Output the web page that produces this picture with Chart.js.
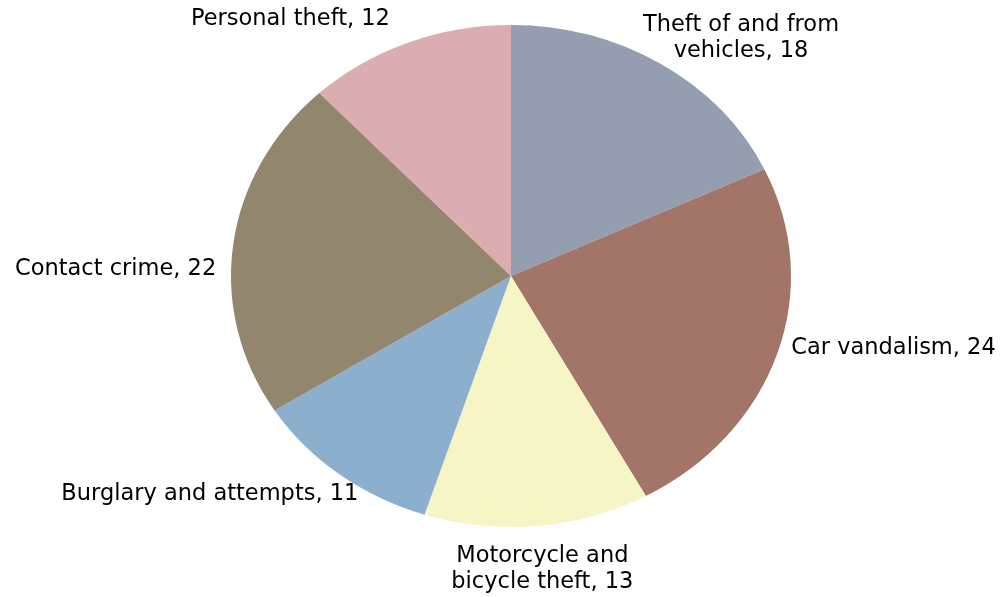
<!DOCTYPE html>
<html>
<head>
<meta charset="utf-8">
<script src="https://cdn.jsdelivr.net/npm/chart.js@4/dist/chart.umd.min.js"></script>
<style>
  html, body { margin: 0; padding: 0; background: #ffffff; }
  #wrap { width: 1005px; height: 597px; position: relative; }
</style>
</head>
<body>
<div id="wrap"><canvas id="c" width="1005" height="597"></canvas></div>
<script>
// ---- data ----
const categories = [
  ["Theft of and from", "vehicles, 18"],
  ["Car vandalism, 24"],
  ["Motorcycle and", "bicycle theft, 13"],
  ["Burglary and attempts, 11"],
  ["Contact crime, 22"],
  ["Personal theft, 12"]
];
const values = [18, 24, 13, 11, 22, 12];

// ---- styles / layout ----
const colors = ["#959EB0", "#A37468", "#F6F5C5", "#8CAFCE", "#92866E", "#DBADB0"];
const stretchX = 280 / 251;  // pie is an ellipse in the reference
const labelLayout = [
  { align: "center", dx: 80,  dy: -25.5 },
  { align: "left",   dx: 14,  dy: -5 },
  { align: "center", dx: 5,   dy: 43 },
  { align: "right",  dx: 19,  dy: 20 },
  { align: "right",  dx: -17, dy: 25 },
  { align: "right",  dx: -18, dy: -23 }
];
const FONT = '22.5px "DejaVu Sans", sans-serif';
const LINE_H = 26;

const stretchPlugin = {
  id: "stretch",
  beforeDatasetsDraw(chart) {
    const arc = chart.getDatasetMeta(0).data[0];
    const ctx = chart.ctx;
    ctx.save();
    ctx.translate(arc.x, arc.y);
    ctx.scale(stretchX, 1);
    ctx.translate(-arc.x, -arc.y);
  },
  afterDatasetsDraw(chart) {
    chart.ctx.restore();
  },
  afterDraw(chart) {
    const ctx = chart.ctx;
    const arcs = chart.getDatasetMeta(0).data;
    ctx.save();
    ctx.font = FONT;
    ctx.fillStyle = "#000000";
    ctx.textBaseline = "middle";
    arcs.forEach((a, i) => {
      const mid = (a.startAngle + a.endAngle) / 2;
      const px = a.x + a.outerRadius * stretchX * Math.cos(mid);
      const py = a.y + a.outerRadius * Math.sin(mid);
      const L = labelLayout[i];
      const lines = categories[i];
      ctx.textAlign = L.align;
      const x = px + L.dx;
      const y0 = py + L.dy - (lines.length - 1) * LINE_H / 2;
      lines.forEach((t, k) => ctx.fillText(t, x, y0 + k * LINE_H));
    });
    ctx.restore();
  }
};

new Chart(document.getElementById("c"), {
  type: "pie",
  data: {
    labels: categories.map(l => l.join(" ")),
    datasets: [{
      data: values,
      backgroundColor: colors,
      borderWidth: 0
    }]
  },
  options: {
    responsive: false,
    animation: false,
    rotation: 0,
    layout: { padding: { top: 25, bottom: 70, left: 260, right: 243 } },
    plugins: {
      legend: { display: false },
      tooltip: { enabled: false }
    }
  },
  plugins: [stretchPlugin]
});
</script>
</body>
</html>
